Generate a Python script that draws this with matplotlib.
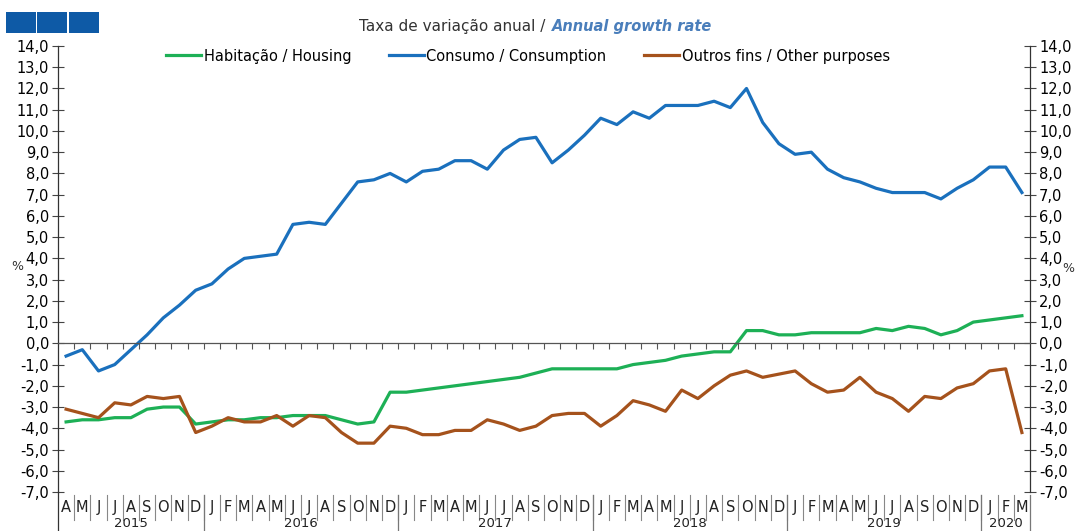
import matplotlib
matplotlib.use("Agg")
import matplotlib.pyplot as plt
from matplotlib.patches import Rectangle
from matplotlib.lines import Line2D
from matplotlib.ticker import FuncFormatter, MultipleLocator
import matplotlib.transforms as mtransforms

plt.rcParams['font.family'] = ['DejaVu Sans']

# Data: monthly annual growth rates, Apr 2015 - Mar 2020
housing = [-3.7, -3.6, -3.6, -3.5, -3.5, -3.1, -3.0, -3.0, -3.8,
           -3.7, -3.6, -3.6, -3.5, -3.5, -3.4, -3.4, -3.4, -3.6, -3.8, -3.7, -2.3,
           -2.3, -2.2, -2.1, -2.0, -1.9, -1.8, -1.7, -1.6, -1.4, -1.2, -1.2, -1.2,
           -1.2, -1.2, -1.0, -0.9, -0.8, -0.6, -0.5, -0.4, -0.4, 0.6, 0.6, 0.4,
           0.4, 0.5, 0.5, 0.5, 0.5, 0.7, 0.6, 0.8, 0.7, 0.4, 0.6, 1.0,
           1.1, 1.2, 1.3]
consumption = [-0.6, -0.3, -1.3, -1.0, -0.3, 0.4, 1.2, 1.8, 2.5,
               2.8, 3.5, 4.0, 4.1, 4.2, 5.6, 5.7, 5.6, 6.6, 7.6, 7.7, 8.0,
               7.6, 8.1, 8.2, 8.6, 8.6, 8.2, 9.1, 9.6, 9.7, 8.5, 9.1, 9.8,
               10.6, 10.3, 10.9, 10.6, 11.2, 11.2, 11.2, 11.4, 11.1, 12.0, 10.4, 9.4,
               8.9, 9.0, 8.2, 7.8, 7.6, 7.3, 7.1, 7.1, 7.1, 6.8, 7.3, 7.7,
               8.3, 8.3, 7.1]
other = [-3.1, -3.3, -3.5, -2.8, -2.9, -2.5, -2.6, -2.5, -4.2,
         -3.9, -3.5, -3.7, -3.7, -3.4, -3.9, -3.4, -3.5, -4.2, -4.7, -4.7, -3.9,
         -4.0, -4.3, -4.3, -4.1, -4.1, -3.6, -3.8, -4.1, -3.9, -3.4, -3.3, -3.3,
         -3.9, -3.4, -2.7, -2.9, -3.2, -2.2, -2.6, -2.0, -1.5, -1.3, -1.6, -1.45,
         -1.3, -1.9, -2.3, -2.2, -1.6, -2.3, -2.6, -3.2, -2.5, -2.6, -2.1, -1.9,
         -1.3, -1.2, -4.2]

month_letters = "JFMAMJJASOND"
start_month = 3  # April
years = [2015, 2016, 2017, 2018, 2019, 2020]
months_per_year = [9, 12, 12, 12, 12, 3]

n = len(consumption)
x = [i + 0.5 for i in range(n)]
labels = [month_letters[(start_month + i) % 12] for i in range(n)]

green = "#1db056"
blue = "#1a70bd"
brown = "#a5521c"

fig = plt.figure(figsize=(10.76, 5.31), dpi=100)
ax = fig.add_axes([58 / 1076, 1 - 492 / 531, (1030 - 58) / 1076, (492 - 46) / 531])

ax.plot(x, housing, color=green, lw=2.3, solid_joinstyle='round')
ax.plot(x, consumption, color=blue, lw=2.3, solid_joinstyle='round')
ax.plot(x, other, color=brown, lw=2.3, solid_joinstyle='round')

ax.set_xlim(0, n)
ax.set_ylim(-7, 14)
ax.yaxis.set_major_locator(MultipleLocator(1))
ax.yaxis.set_major_formatter(FuncFormatter(lambda v, p: "{:.1f}".format(v).replace('.', ',')))
ax.tick_params(axis='y', which='both', left=True, right=True, labelleft=True, labelright=True,
               direction='inout', length=9, width=0.8, color='#444444', labelsize=10.5, pad=2)

# zero line acts as the x axis
ax.spines['top'].set_visible(False)
ax.spines['bottom'].set_position(('data', 0))
ax.spines['bottom'].set_color('#555555')
ax.spines['bottom'].set_linewidth(0.9)
for s in ['left', 'right']:
    ax.spines[s].set_color('#333333')
    ax.spines[s].set_linewidth(0.9)
ax.set_xticks(range(1, n))
ax.set_xticklabels([])
ax.tick_params(axis='x', direction='out', length=4, width=0.8, color='#555555')

# month labels and separators below the axes
trans = mtransforms.blended_transform_factory(ax.transData, ax.transAxes)
for xi, lab in zip(x, labels):
    ax.text(xi, -0.034, lab, transform=trans, ha='center', va='center', fontsize=10.5, color='#222222')
for b in range(1, n):
    ax.plot([b, b], [-0.006, -0.062], transform=trans, color='#888888', lw=0.8, clip_on=False)

pos = 0
for yr, cnt in zip(years, months_per_year):
    ax.text(pos + cnt / 2, -0.071, str(yr), transform=trans, ha='center', va='center',
            fontsize=9.5, color='#222222')
    pos += cnt
    ax.plot([pos, pos], [-0.006, -0.1], transform=trans, color='#777777', lw=0.9, clip_on=False)
ax.plot([0, 0], [0, -0.1], transform=trans, color='#333333', lw=0.9, clip_on=False)

# percent labels
fig.text(17 / 1076, 1 - 266 / 531, "%", fontsize=9, ha='center', va='center', color='#333333')
fig.text(1068 / 1076, 1 - 268 / 531, "%", fontsize=9, ha='center', va='center', color='#333333')

# legend
handles = [Line2D([], [], color=green, lw=2.3),
           Line2D([], [], color=blue, lw=2.3),
           Line2D([], [], color=brown, lw=2.3)]
names = ["Habitação / Housing", "Consumo / Consumption", "Outros fins / Other purposes"]
fig.legend(handles, names, loc='center', bbox_to_anchor=(528 / 1076, 1 - 56 / 531), ncol=3,
           frameon=False, fontsize=10.5, handlelength=2.4, handletextpad=0.15, columnspacing=2.6)

# title
fig.text(550 / 1076, 1 - 27 / 531, "Taxa de variação anual / ", ha='right', va='center',
         fontsize=11, color='#333333')
fig.text(552 / 1076, 1 - 27 / 531, "Annual growth rate", ha='left', va='center',
         fontsize=10.5, color='#4a7ebb', fontweight='bold', fontstyle='italic')

# three blue squares in top-left corner
for sx in [6, 37, 69]:
    fig.add_artist(Rectangle((sx / 1076, 1 - 33 / 531), 30 / 1076, 21 / 531,
                             transform=fig.transFigure, facecolor='#0e5aa6', edgecolor='none'))

fig.savefig("out.png", dpi=100)
